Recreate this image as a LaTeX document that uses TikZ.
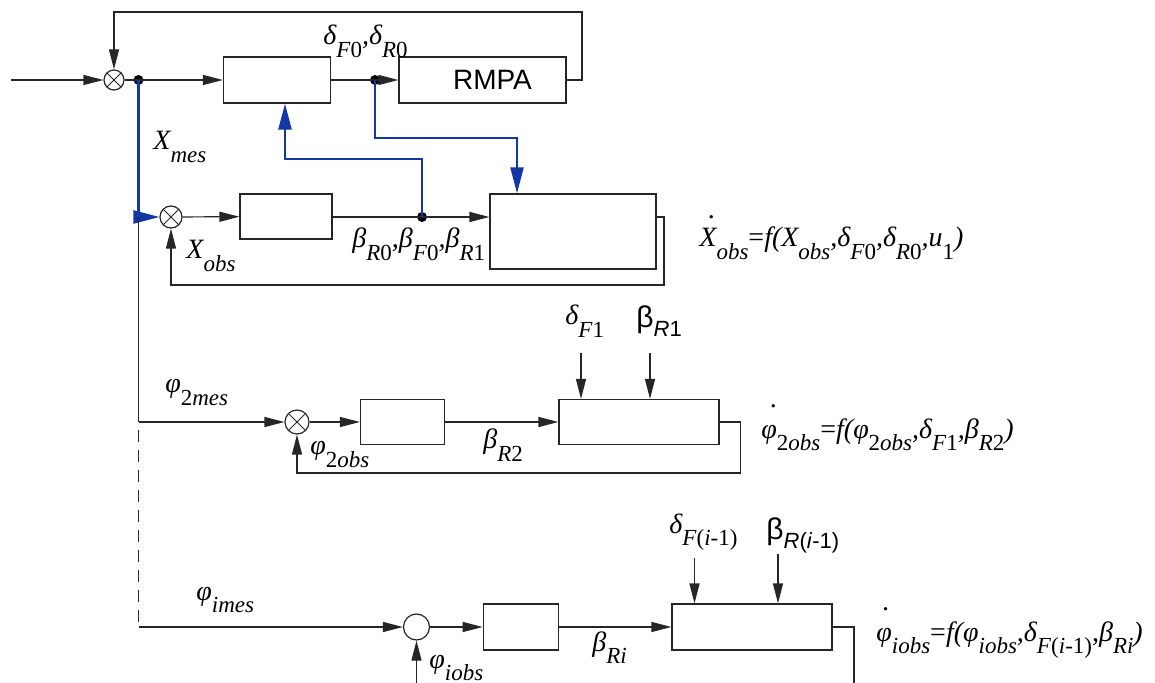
\documentclass[tikz,border=0pt]{standalone}
\usepackage{fontspec}
\setmainfont{Liberation Serif}
\setsansfont{Liberation Sans}
\usetikzlibrary{arrows.meta}
\definecolor{lineblue}{RGB}{20,55,165}
\newcommand\subx[1]{\raisebox{-0.45em}{\fontsize{11.5}{11.5}\selectfont #1}}
\newcommand\subs[1]{\raisebox{-0.3em}{\fontsize{11}{11}\selectfont #1}}
\newcommand\dotacc[3]{\leavevmode\rlap{\hspace{#1}\raisebox{#2}{\upshape.}}#3}
\begin{document}
\begin{tikzpicture}[x=0.5pt,y=-0.5pt,
  >={Triangle[length=10pt,width=5pt]},
  ln/.style={draw=black!85, line width=0.6pt},
  bl/.style={draw=lineblue, line width=1.2pt, -{Triangle[length=13pt,width=6.5pt]}},
  blk/.style={draw=black!85, line width=0.6pt, rectangle, inner sep=0pt, fill=white},
  sumx/.style={draw=black!85, line width=0.6pt, circle, inner sep=0pt,
    path picture={\draw[black!85,line width=0.5pt]
      (path picture bounding box.north west)--(path picture bounding box.south east)
      (path picture bounding box.north east)--(path picture bounding box.south west);}},
  sumo/.style={draw=black!85, line width=0.6pt, circle, inner sep=0pt},
  jd/.style={circle, fill=black, inner sep=0pt, minimum size=5pt},
  lbl/.style={inner sep=0pt, font=\fontsize{14}{16}\selectfont\itshape},
  slbl/.style={inner sep=0pt, font=\fontsize{15}{17}\selectfont\sffamily},
  rmtxt/.style={font=\fontsize{14}{16}\selectfont\sffamily}]
\useasboundingbox (0,0) rectangle (1155,683);

% blocks
\node[blk, minimum width=53.5pt, minimum height=23pt] (b1) at (277,80) {};
\node[blk, minimum width=83.5pt, minimum height=23pt, rmtxt] (rmpa) at (482.5,80) {\hspace{10pt}RMPA};
\node[blk, minimum width=46pt, minimum height=22.5pt] (b2) at (286,216.5) {};
\node[blk, minimum width=83pt, minimum height=37.5pt] (b3) at (573,231.5) {};
\node[blk, minimum width=42pt, minimum height=22.5pt] (b4) at (402.5,422) {};
\node[blk, minimum width=80pt, minimum height=22.5pt] (b5) at (639,422) {};
\node[blk, minimum width=37.75pt, minimum height=23pt] (b6) at (521,627) {};
\node[blk, minimum width=80pt, minimum height=23pt] (b7) at (752,627) {};

% summers
\node[sumx, minimum size=10pt] (s1) at (114,80) {};
\node[sumx, minimum size=11pt] (s2) at (171,217) {};
\node[sumx, minimum size=12pt] (s3) at (297,422) {};
\node[sumo, minimum size=13pt] (s4) at (416.5,627) {};

% junction dots
\node[jd] (d1) at (138.5,80) {};
\node[jd] (d2) at (375,80) {};
\node[jd] (d3) at (422,217) {};

% coordinates
\coordinate (in) at (11,80);
\coordinate (j2) at (138.5,217);
\coordinate (j3) at (138.5,422);
\coordinate (j4) at (138.5,627);
\coordinate (c1) at (285,159);
\coordinate (c2) at (517,138);
\coordinate (c3) at (582,12);
\coordinate (c4) at (664,285);
\coordinate (c5) at (740.5,473);
\coordinate (c6) at (854,683);
\coordinate (c7) at (416.5,683);
\coordinate (t1) at (581,353);
\coordinate (t2) at (650,353);
\coordinate (t3) at (694.5,558);
\coordinate (t4) at (778,554);

% row 1
\draw[ln,->] (in) -- (s1);
\draw[ln,->] (s1) -- (b1);
\draw[ln,->] (b1) -- (rmpa);
\draw[ln,->] (rmpa.east) -| (c3) -| (s1.north);

% row 2
\draw[ln,->] (s2) -- (b2);
\draw[ln,->] (b2.east |- s2) -- (b3.west |- s2);
\draw[ln,->] (b3.east |- s2) -| (c4) -| (s2.south);

% blue connectors
\draw[bl] (d1.center) |- (s2.west);
\draw[bl] (d2.center) |- (c2) -- (b3.north -| c2);
\draw[bl] (d3.center) |- (c1) -- (b1.south -| c1);

% vertical measurement bus
\draw[ln] (j2) -- (j3);
\draw[ln, dash pattern=on 6pt off 4pt, dash phase=-4pt] (j3) -- (j4);

% row 3
\draw[ln,->] (j3) -- (s3);
\draw[ln,->] (s3) -- (b4);
\draw[ln,->] (b4) -- (b5);
\draw[ln,->] (b5.east) -| (c5) -| (s3.south);
\draw[ln,->] (t1) -- (t1 |- b5.north);
\draw[ln,->] (t2) -- (t2 |- b5.north);

% row 4
\draw[ln,->] (j4) -- (s4);
\draw[ln,->] (s4) -- (b6);
\draw[ln,->] (b6) -- (b7);
\draw[ln] (b7.east) -| (c6);
\draw[ln,->] (c7) -- (s4.south);
\draw[ln,->] (t3) -- (t3 |- b7.north);
\draw[ln,->] (t4) -- (t4 |- b7.north);

% labels
\node[lbl, anchor=base west] (l1) at (323,45) {δ\subx{F\textup{0}},δ\subx{R\textup{0}}};
\node[lbl, anchor=base west] (l2) at (153,150) {X\subx{mes}};
\node[lbl, anchor=base west] (l3) at (186,259) {X\subx{obs}};
\node[lbl, anchor=base west] (l4) at (352,248) {β\subx{R\textup{0}},β\subx{F\textup{0}},β\subx{R\textup{1}}};
\node[lbl, anchor=base west] (e1) at (699,247) {\dotacc{0.3em}{1.03em}{X}\subx{obs}\textup{=}f(X\subx{obs},δ\subx{F\textup{0}},δ\subx{R\textup{0}},u\subx{\textup{1}})};

\node[lbl, anchor=base west] (l5) at (565,325) {δ\subx{F\textup{1}}};
\node[slbl, anchor=base west] (l6) at (636,328) {β\subs{\textit{R}1}};
\node[lbl, anchor=base west] (l7) at (165,393) {φ\subx{\textup{2}mes}};
\node[lbl, anchor=base west] (l8) at (310,455) {φ\subx{\textup{2}obs}};
\node[lbl, anchor=base west] (l9) at (483,449) {β\subx{R\textup{2}}};
\node[lbl, anchor=base west] (e2) at (761,438) {\dotacc{0.3em}{1.1em}{φ}\subx{\textup{2}obs}\textup{=}f(φ\subx{\textup{2}obs},δ\subx{F\textup{1}},β\subx{R\textup{2}})};

\node[lbl, anchor=base west] (l10) at (669,533) {δ\subx{F\textup{(}i\textup{-1)}}};
\node[slbl, anchor=base west] (l11) at (766,539) {β\subs{\textit{R}(\textit{i}-1)}};
\node[lbl, anchor=base west] (l12) at (196,600) {φ\subx{imes}};
\node[lbl, anchor=base west] (l13) at (429,668) {φ\subx{iobs}};
\node[lbl, anchor=base west] (l14) at (592,651) {β\subx{Ri}};
\node[lbl, anchor=base west] (e3) at (876,641) {\dotacc{0.2em}{1.1em}{φ}\subx{iobs}\textup{=}f(φ\subx{iobs},δ\subx{F\textup{(}i\textup{-1)}},β\subx{Ri})};
\end{tikzpicture}
\end{document}
